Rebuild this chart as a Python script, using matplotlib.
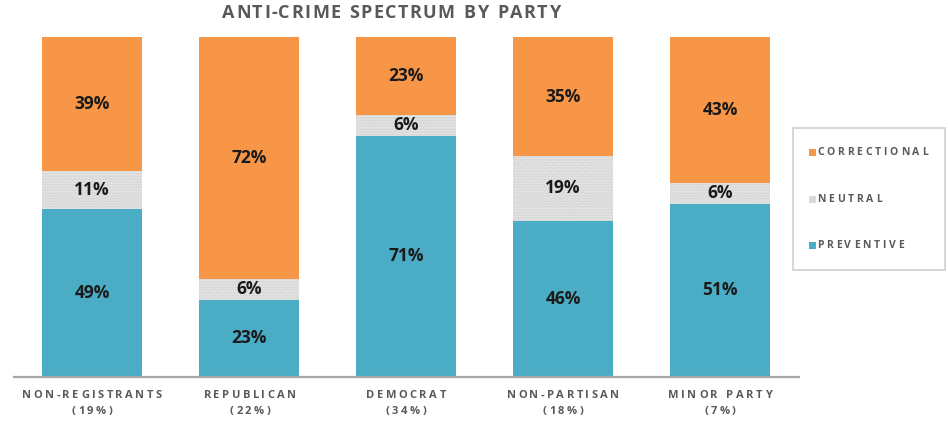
import matplotlib
matplotlib.use("Agg")
import matplotlib.pyplot as plt
import numpy as np
from matplotlib.patches import Rectangle

categories = ["NON-REGISTRANTS", "REPUBLICAN", "DEMOCRAT", "NON-PARTISAN", "MINOR PARTY"]
shares = ["(19%)", "(22%)", "(34%)", "(18%)", "(7%)"]
preventive = [49, 23, 71, 46, 51]
neutral = [11, 6, 6, 19, 6]
correctional = [39, 72, 23, 35, 43]

C_PREV = "#4BACC6"
C_NEUT = "#D9D9D9"
C_CORR = "#F79646"
TXT = "#595959"
FAM = ["Open Sans", "DejaVu Sans"]

W, H = 948, 423
fig = plt.figure(figsize=(W / 100, H / 100), dpi=100)
ax = fig.add_axes([13.5 / W, (H - 377) / H, 785 / W, 340 / H])

x = np.arange(len(categories))
prev = np.array(preventive, float)
neut = np.array(neutral, float)
corr = np.array(correctional, float)
tot = prev + neut + corr
p, n, c = prev / tot, neut / tot, corr / tot

bw = 100 / 157
plt.rcParams["hatch.linewidth"] = 0.6
ax.bar(x, p, bw, color=C_PREV, linewidth=0)
ax.bar(x, n, bw, bottom=p, color=C_NEUT, linewidth=0, hatch="......", edgecolor="#EEEEEE")
ax.bar(x, c, bw, bottom=p + n, color=C_CORR, linewidth=0)

lab_font = dict(fontsize=12.5, fontweight="bold", color="#1A1A1A", ha="center", va="center", family=FAM)
for i in range(len(x)):
    ax.text(x[i], p[i] / 2, f"{preventive[i]}%", **lab_font)
    ax.text(x[i], p[i] + n[i] / 2, f"{neutral[i]}%", **lab_font)
    ax.text(x[i], p[i] + n[i] + c[i] / 2, f"{correctional[i]}%", **lab_font)

ax.set_xlim(-0.5, 4.5)
ax.set_ylim(0, 1)
ax.axis("off")
ax.axhline(0, color="#A6A6A6", lw=1.6, xmin=0, xmax=1, clip_on=False)

renderer = fig.canvas.get_renderer()


def spaced_text(xc, y, s, spacing, align="center", **kw):
    """Draw letter-spaced text in figure pixel coordinates."""
    widths = []
    for ch in s:
        t = fig.text(0, 0, ch if ch != " " else "n", **kw)
        bb = t.get_window_extent(renderer)
        widths.append(bb.width * (0.5 if ch == " " else 1.0))
        t.remove()
    total = sum(widths) + spacing * (len(s) - 1)
    x0 = xc - total / 2 if align == "center" else xc
    for ch, w in zip(s, widths):
        if ch != " ":
            fig.text(x0 / W, 1 - y / H, ch, ha="left", va="center", **kw)
        x0 += w + spacing


cat_kw = dict(fontsize=8, color=TXT, fontweight="bold", family=FAM)
centers = [92, 250, 406, 563, 720]
for cx, cat, sh in zip(centers, categories, shares):
    spaced_text(cx, 395, cat, 2.5, **cat_kw)
    spaced_text(cx, 411, sh, 2.5, **cat_kw)

title_kw = dict(fontsize=13, color=TXT, fontweight="bold", family=FAM)
spaced_text(391, 13, "ANTI-CRIME SPECTRUM BY PARTY", 1.4, **title_kw)

# legend box
fig.patches.append(Rectangle((793 / W, 1 - 270 / H), 152 / W, 142 / H, transform=fig.transFigure,
                             facecolor="white", edgecolor="#D0D0D0", lw=1.2))
leg_kw = dict(fontsize=7.5, color=TXT, fontweight="bold", family=FAM)
for label, col, y in [("CORRECTIONAL", C_CORR, 152), ("NEUTRAL", C_NEUT, 199), ("PREVENTIVE", C_PREV, 246)]:
    fig.patches.append(Rectangle((809 / W, 1 - (y + 3.5) / H), 7 / W, 7 / H, transform=fig.transFigure,
                                 facecolor=col, edgecolor="none"))
    spaced_text(817, y, label, 2.8, align="left", **leg_kw)

fig.savefig("out.png", dpi=100)
